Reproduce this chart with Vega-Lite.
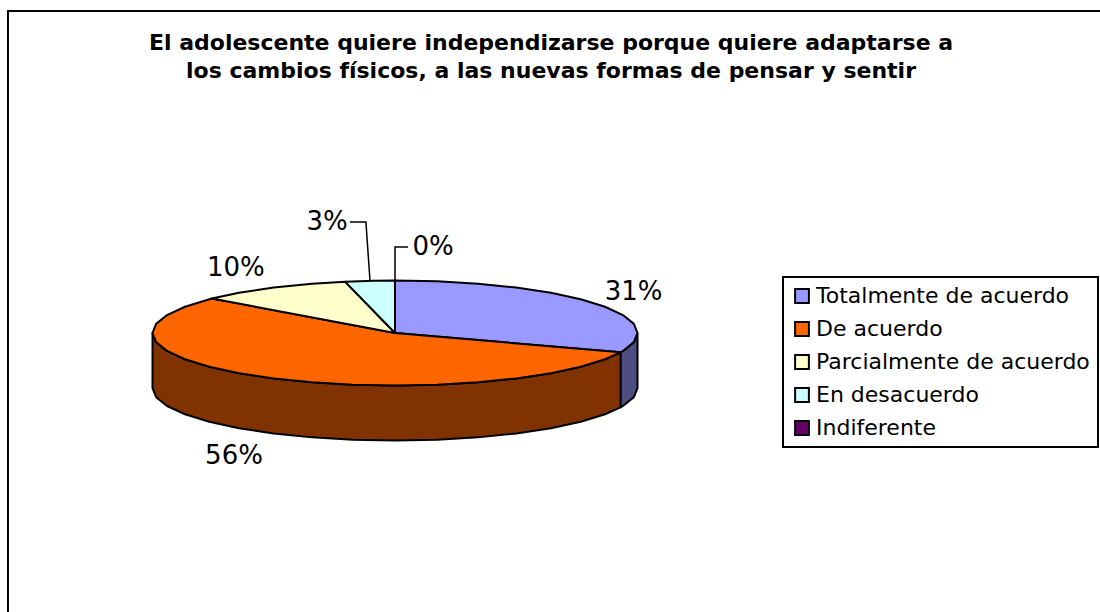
{
"$schema":"https://vega.github.io/schema/vega-lite/v6.json",
"width":1100,"height":612,"padding":0,"autosize":{"type":"none"},
"background":"white",
"config":{"view":{"stroke":null},"font":"DejaVu Sans","legend":{"strokeWidth":2}},
"title":{"text":["El adolescente quiere independizarse porque quiere adaptarse  a","los cambios físicos,  a las nuevas formas de pensar y sentir"],"anchor":"middle","frame":"group","offset":-83,"dx":1,"font":"DejaVu Sans","fontSize":22,"fontWeight":"bold","color":"black","lineHeight":28},
"datasets":{
"frame":[{"u":-1.596,"v":-5.3143,"o":0},{"u":-1.596,"v":6.133,"o":1},{"u":2.9072,"v":6.133,"o":2}],
"sides":[
{"slice":"Totalmente de acuerdo","o":0,"u":1,"v":0},{"slice":"Totalmente de acuerdo","o":1,"u":0.985,"v":-0.174},{"slice":"Totalmente de acuerdo","o":2,"u":0.94,"v":-0.342},{"slice":"Totalmente de acuerdo","o":3,"u":0.93,"v":-0.368},{"slice":"Totalmente de acuerdo","o":4,"u":0.93,"v":-1.416},{"slice":"Totalmente de acuerdo","o":5,"u":0.94,"v":-1.39},{"slice":"Totalmente de acuerdo","o":6,"u":0.985,"v":-1.222},{"slice":"Totalmente de acuerdo","o":7,"u":1,"v":-1.048},{"slice":"Totalmente de acuerdo","o":8,"u":1,"v":0},
{"slice":"De acuerdo","o":0,"u":0.93,"v":-0.368},{"slice":"De acuerdo","o":1,"u":0.866,"v":-0.5},{"slice":"De acuerdo","o":2,"u":0.766,"v":-0.643},{"slice":"De acuerdo","o":3,"u":0.643,"v":-0.766},{"slice":"De acuerdo","o":4,"u":0.5,"v":-0.866},{"slice":"De acuerdo","o":5,"u":0.342,"v":-0.94},{"slice":"De acuerdo","o":6,"u":0.174,"v":-0.985},{"slice":"De acuerdo","o":7,"u":0,"v":-1},{"slice":"De acuerdo","o":8,"u":-0.174,"v":-0.985},{"slice":"De acuerdo","o":9,"u":-0.342,"v":-0.94},{"slice":"De acuerdo","o":10,"u":-0.5,"v":-0.866},{"slice":"De acuerdo","o":11,"u":-0.643,"v":-0.766},{"slice":"De acuerdo","o":12,"u":-0.766,"v":-0.643},{"slice":"De acuerdo","o":13,"u":-0.866,"v":-0.5},{"slice":"De acuerdo","o":14,"u":-0.94,"v":-0.342},{"slice":"De acuerdo","o":15,"u":-0.985,"v":-0.174},{"slice":"De acuerdo","o":16,"u":-1,"v":0},
{"slice":"De acuerdo","o":17,"u":-1,"v":-1.048},{"slice":"De acuerdo","o":18,"u":-0.985,"v":-1.222},{"slice":"De acuerdo","o":19,"u":-0.94,"v":-1.39},{"slice":"De acuerdo","o":20,"u":-0.866,"v":-1.548},{"slice":"De acuerdo","o":21,"u":-0.766,"v":-1.691},{"slice":"De acuerdo","o":22,"u":-0.643,"v":-1.814},{"slice":"De acuerdo","o":23,"u":-0.5,"v":-1.914},{"slice":"De acuerdo","o":24,"u":-0.342,"v":-1.988},{"slice":"De acuerdo","o":25,"u":-0.174,"v":-2.033},{"slice":"De acuerdo","o":26,"u":0,"v":-2.048},{"slice":"De acuerdo","o":27,"u":0.174,"v":-2.033},{"slice":"De acuerdo","o":28,"u":0.342,"v":-1.988},{"slice":"De acuerdo","o":29,"u":0.5,"v":-1.914},{"slice":"De acuerdo","o":30,"u":0.643,"v":-1.814},{"slice":"De acuerdo","o":31,"u":0.766,"v":-1.691},{"slice":"De acuerdo","o":32,"u":0.866,"v":-1.548},{"slice":"De acuerdo","o":33,"u":0.93,"v":-1.416},{"slice":"De acuerdo","o":34,"u":0.93,"v":-0.368}
],
"tops":[
{"slice":"Totalmente de acuerdo","o":0,"u":0,"v":0},{"slice":"Totalmente de acuerdo","o":1,"u":0,"v":1},{"slice":"Totalmente de acuerdo","o":2,"u":0.174,"v":0.985},{"slice":"Totalmente de acuerdo","o":3,"u":0.342,"v":0.94},{"slice":"Totalmente de acuerdo","o":4,"u":0.5,"v":0.866},{"slice":"Totalmente de acuerdo","o":5,"u":0.643,"v":0.766},{"slice":"Totalmente de acuerdo","o":6,"u":0.766,"v":0.643},{"slice":"Totalmente de acuerdo","o":7,"u":0.866,"v":0.5},{"slice":"Totalmente de acuerdo","o":8,"u":0.94,"v":0.342},{"slice":"Totalmente de acuerdo","o":9,"u":0.985,"v":0.174},{"slice":"Totalmente de acuerdo","o":10,"u":1,"v":0},{"slice":"Totalmente de acuerdo","o":11,"u":0.985,"v":-0.174},{"slice":"Totalmente de acuerdo","o":12,"u":0.94,"v":-0.342},{"slice":"Totalmente de acuerdo","o":13,"u":0.93,"v":-0.368},{"slice":"Totalmente de acuerdo","o":14,"u":0,"v":0},
{"slice":"De acuerdo","o":0,"u":0,"v":0},{"slice":"De acuerdo","o":1,"u":0.93,"v":-0.368},{"slice":"De acuerdo","o":2,"u":0.866,"v":-0.5},{"slice":"De acuerdo","o":3,"u":0.766,"v":-0.643},{"slice":"De acuerdo","o":4,"u":0.643,"v":-0.766},{"slice":"De acuerdo","o":5,"u":0.5,"v":-0.866},{"slice":"De acuerdo","o":6,"u":0.342,"v":-0.94},{"slice":"De acuerdo","o":7,"u":0.174,"v":-0.985},{"slice":"De acuerdo","o":8,"u":0,"v":-1},{"slice":"De acuerdo","o":9,"u":-0.174,"v":-0.985},{"slice":"De acuerdo","o":10,"u":-0.342,"v":-0.94},{"slice":"De acuerdo","o":11,"u":-0.5,"v":-0.866},{"slice":"De acuerdo","o":12,"u":-0.643,"v":-0.766},{"slice":"De acuerdo","o":13,"u":-0.766,"v":-0.643},{"slice":"De acuerdo","o":14,"u":-0.866,"v":-0.5},{"slice":"De acuerdo","o":15,"u":-0.94,"v":-0.342},{"slice":"De acuerdo","o":16,"u":-0.985,"v":-0.174},{"slice":"De acuerdo","o":17,"u":-1,"v":0},{"slice":"De acuerdo","o":18,"u":-0.985,"v":0.174},{"slice":"De acuerdo","o":19,"u":-0.94,"v":0.342},{"slice":"De acuerdo","o":20,"u":-0.866,"v":0.5},{"slice":"De acuerdo","o":21,"u":-0.755,"v":0.656},{"slice":"De acuerdo","o":22,"u":0,"v":0},
{"slice":"Parcialmente de acuerdo","o":0,"u":0,"v":0},{"slice":"Parcialmente de acuerdo","o":1,"u":-0.755,"v":0.656},{"slice":"Parcialmente de acuerdo","o":2,"u":-0.643,"v":0.766},{"slice":"Parcialmente de acuerdo","o":3,"u":-0.5,"v":0.866},{"slice":"Parcialmente de acuerdo","o":4,"u":-0.342,"v":0.94},{"slice":"Parcialmente de acuerdo","o":5,"u":-0.206,"v":0.978},{"slice":"Parcialmente de acuerdo","o":6,"u":0,"v":0},
{"slice":"En desacuerdo","o":0,"u":0,"v":0},{"slice":"En desacuerdo","o":1,"u":-0.206,"v":0.978},{"slice":"En desacuerdo","o":2,"u":-0.087,"v":0.996},{"slice":"En desacuerdo","o":3,"u":0,"v":1},{"slice":"En desacuerdo","o":4,"u":0,"v":0}
],
"leaders":[
{"slice":"En desacuerdo","o":0,"u":-0.186,"v":2.114},{"slice":"En desacuerdo","o":1,"u":-0.12,"v":2.114},{"slice":"En desacuerdo","o":2,"u":-0.103,"v":0.99},
{"slice":"Indiferente","o":0,"u":0.054,"v":1.638},{"slice":"Indiferente","o":1,"u":0,"v":1.638},{"slice":"Indiferente","o":2,"u":0,"v":1}
],
"labels":[
{"slice":"Totalmente de acuerdo","value":"31%","u":0.984,"v":0.79},
{"slice":"De acuerdo","value":"56%","u":-0.664,"v":-2.343},
{"slice":"Parcialmente de acuerdo","value":"10%","u":-0.656,"v":1.238},
{"slice":"En desacuerdo","value":"3%","u":-0.28,"v":2.114},
{"slice":"Indiferente","value":"0%","u":0.157,"v":1.638}
]
},
"encoding":{
"x":{"field":"u","type":"quantitative","axis":null,"scale":{"domain":[-1.6289,2.9072],"zero":false,"nice":false}},
"y":{"field":"v","type":"quantitative","axis":null,"scale":{"domain":[-5.3143,6.3429],"zero":false,"nice":false}}
},
"layer":[
{"data":{"name":"frame"},"mark":{"type":"line","stroke":"black","strokeWidth":2,"clip":false},"encoding":{"order":{"field":"o","type":"quantitative"}}},
{"data":{"name":"sides"},"transform":[{"filter":"datum.slice==='Totalmente de acuerdo'"}],"mark":{"type":"line","filled":true,"fill":"#4D4D80","stroke":"black","strokeWidth":2,"strokeJoin":"round"},"encoding":{"order":{"field":"o","type":"quantitative"}}},
{"data":{"name":"sides"},"transform":[{"filter":"datum.slice==='De acuerdo'"}],"mark":{"type":"line","filled":true,"fill":"#803300","stroke":"black","strokeWidth":2,"strokeJoin":"round"},"encoding":{"order":{"field":"o","type":"quantitative"}}},
{"data":{"name":"tops"},"mark":{"type":"line","filled":true,"stroke":"black","strokeWidth":2,"strokeJoin":"round"},
"encoding":{"order":{"field":"o","type":"quantitative"},
"fill":{"field":"slice","type":"nominal","sort":null,
"scale":{"domain":["Totalmente de acuerdo","De acuerdo","Parcialmente de acuerdo","En desacuerdo","Indiferente"],"range":["#9999FF","#FF6600","#FFFFCC","#CCFFFF","#660066"]},
"legend":{"title":null,"orient":"none","legendX":783,"legendY":277,"padding":8,"strokeColor":"black","fillColor":"white","symbolType":"square","symbolSize":190,"symbolStrokeColor":"black","symbolStrokeWidth":2,"labelFont":"DejaVu Sans","labelFontSize":22,"labelColor":"black","labelLimit":320,"rowPadding":11,"labelOffset":3}}}},
{"data":{"name":"leaders"},"mark":{"type":"line","stroke":"black","strokeWidth":1.5},"encoding":{"order":{"field":"o","type":"quantitative"},"detail":{"field":"slice"}}},
{"data":{"name":"labels"},"mark":{"type":"text","font":"DejaVu Sans","fontSize":26,"color":"black","align":"center","baseline":"middle"},"encoding":{"text":{"field":"value"}}}
]
}
